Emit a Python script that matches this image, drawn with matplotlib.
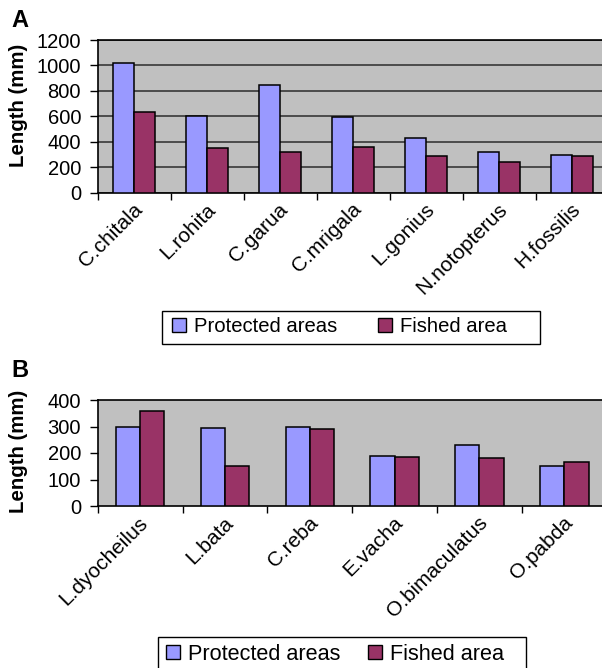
import numpy as np
import matplotlib
matplotlib.use('Agg')
import matplotlib.pyplot as plt
import matplotlib.transforms as mtransforms
from matplotlib.patches import Patch, Rectangle

plt.rcParams['font.family'] = ['Liberation Sans', 'DejaVu Sans']

# panel A data
species_a = ['C.chitala', 'L.rohita', 'C.garua', 'C.mrigala', 'L.gonius',
             'N.notopterus', 'H.fossilis']
protected_a = [1020, 605, 850, 595, 430, 320, 300]
fished_a = [635, 350, 320, 360, 290, 240, 290]

# panel B data
species_b = ['L.dyocheilus', 'L.bata', 'C.reba', 'E.vacha', 'O.bimaculatus',
             'O.pabda']
protected_b = [300, 295, 300, 190, 230, 150]
fished_b = [360, 150, 290, 185, 180, 165]

series_names = ['Protected areas', 'Fished area']
col_prot = '#9999FF'
col_fish = '#993366'
bg = '#C0C0C0'

W, H = 602, 668
fig = plt.figure(figsize=(W / 100, H / 100), dpi=100)


def panel(rect, cats, prot, fish, ymax, step, grid):
    ax = fig.add_axes(rect)
    ax.set_facecolor(bg)
    x = np.arange(len(cats))
    w = 0.286
    ax.bar(x - w / 2, prot, w, color=col_prot, edgecolor='black', linewidth=1.1, zorder=3)
    ax.bar(x + w / 2, fish, w, color=col_fish, edgecolor='black', linewidth=1.1, zorder=3)
    ax.set_xlim(-0.5, len(cats) - 0.5)
    ax.set_ylim(0, ymax)
    ax.set_yticks(np.arange(0, ymax + 1, step))
    ax.tick_params(axis='y', direction='out', length=6, width=1, pad=6, labelsize=14.5)
    # category boundary ticks
    ax.set_xticks(np.arange(len(cats) + 1) - 0.5, minor=True)
    ax.tick_params(axis='x', which='minor', direction='out', length=5, width=1)
    ax.set_xticks(x)
    ax.set_xticklabels(cats, rotation=45, ha='right', va='center',
                       rotation_mode='anchor', fontsize=15)
    ax.tick_params(axis='x', which='major', length=0, pad=10)
    off = mtransforms.ScaledTranslation(5 / 100, 0, fig.dpi_scale_trans)
    for lab in ax.get_xticklabels():
        lab.set_transform(lab.get_transform() + off)
    for s in ['left', 'bottom', 'top']:
        ax.spines[s].set_linewidth(1.2)
        ax.spines[s].set_color('black')
    ax.spines['right'].set_visible(False)
    if grid:
        ax.yaxis.grid(True, color='#383838', linewidth=1.2, zorder=1)
        ax.set_axisbelow(True)
    ax.set_ylabel('Length (mm)', fontsize=14.7, fontweight='bold')
    return ax


ax_a = panel([97.7 / W, 1 - 192.7 / H, 511 / W, 152.7 / H],
             species_a, protected_a, fished_a, 1200, 200, True)
ax_a.yaxis.set_label_coords(-0.136, 0.57)
ax_b = panel([97.7 / W, 1 - 506 / H, 509 / W, 106 / H],
             species_b, protected_b, fished_b, 400, 100, False)
ax_b.yaxis.set_label_coords(-0.137, 0.52)

fig.text(11 / W, 1 - 9 / H, 'A', fontsize=17, fontweight='bold', va='top')
fig.text(11 / W, 1 - 359 / H, 'B', fontsize=17, fontweight='bold', va='top')

handles = [Patch(facecolor=col_prot, edgecolor='black', linewidth=1.0),
           Patch(facecolor=col_fish, edgecolor='black', linewidth=1.0)]

# legend A (frame drawn separately, Excel style with extra right padding)
fig.legend(handles, series_names, loc='center left',
           bbox_to_anchor=(171.6 / W, 1 - 327 / H), ncol=2, fontsize=14.6,
           frameon=False, handlelength=0.69, handleheight=0.69,
           handletextpad=0.42, columnspacing=2.0, borderpad=0, borderaxespad=0)
fig.patches.append(Rectangle((162 / W, 1 - 344 / H), 378 / W, 33 / H,
                             transform=fig.transFigure, fill=False,
                             edgecolor='black', linewidth=1.0))

# legend B
fig.legend(handles, series_names, loc='center left',
           bbox_to_anchor=(166 / W, 1 - 654 / H), ncol=2, fontsize=15.6,
           frameon=False, handlelength=0.65, handleheight=0.65,
           handletextpad=0.37, columnspacing=1.25, borderpad=0, borderaxespad=0)
fig.patches.append(Rectangle((158.5 / W, 1 - 672 / H), 367.5 / W, 35 / H,
                             transform=fig.transFigure, fill=False,
                             edgecolor='black', linewidth=1.0))

fig.savefig('out.png', dpi=100)
